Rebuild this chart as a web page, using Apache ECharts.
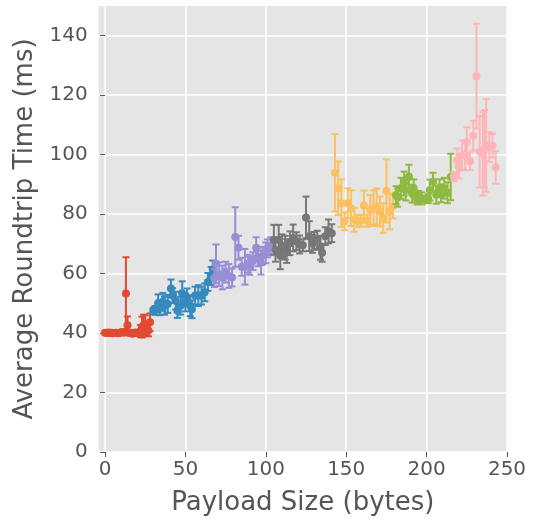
<!DOCTYPE html>
<html>
<head>
<meta charset="utf-8">
<script src="https://cdn.jsdelivr.net/npm/echarts@6/dist/echarts.min.js"></script>
<style>
  html, body { margin: 0; padding: 0; background: #fff; }
  #chart { width: 538px; height: 521px; }
</style>
</head>
<body>
<div id="chart"></div>
<script>
// payload size (bytes), mean roundtrip (ms), error (+/- ms)
var payload = [
  0, 1, 2, 3, 4, 5, 6, 7, 8, 9, 10, 11, 12, 13, 14, 15, 16, 17, 18, 19, 20, 21, 22, 23, 24, 25, 26, 27, 28,
  30, 31, 33, 34, 36, 37, 39, 41, 42, 44, 45, 47, 48, 50, 51, 53, 54, 56, 58, 60, 62, 64, 66, 67,
  68, 69, 71, 73, 75, 77, 79, 81, 83, 85, 87, 89, 90, 92, 94, 95, 97, 98, 100, 101, 103,
  105, 106, 108, 109, 110, 112, 113, 115, 117, 119, 121, 123, 125, 127, 129, 130, 132, 134, 135, 137, 139, 141,
  143, 145, 147, 149, 151, 153, 155, 157, 159, 161, 163, 165, 167, 169, 171, 173, 175, 177, 179,
  181, 182, 184, 186, 187, 189, 191, 192, 194, 195, 197, 199, 201, 202, 204, 206, 208, 209, 211, 213, 215,
  217, 219, 220, 222, 224, 225, 227, 229, 231, 233, 235, 236, 237, 239, 241, 243
];
var rtt = [
  40.1, 40.0, 40.2, 40.0, 40.1, 39.9, 40.0, 40.1, 39.9, 40.0, 40.2, 40.4, 40.1, 53.3, 42.6, 40.0, 40.1, 39.8, 40.0, 40.2, 40.0, 40.1, 40.7, 42.0, 42.6, 43.0, 40.5, 40.9, 43.6,
  47.5, 47.6, 50.0, 48.5, 50.5, 49.2, 49.8, 55.0, 52.6, 50.9, 47.6, 49.2, 53.4, 50.3, 52.0, 49.2, 48.0, 52.6, 52.6, 52.6, 53.7, 57.2, 59.2, 61.4,
  58.5, 63.3, 59.8, 58.7, 60.5, 59.2, 58.7, 72.3, 68.7, 62.3, 62.3, 63.3, 62.6, 64.2, 68.7, 65.5, 63.7, 66.0, 67.0, 68.5, 69.2,
  71.4, 68.0, 71.4, 66.0, 69.2, 68.7, 67.6, 70.2, 72.0, 70.9, 69.8, 69.5, 78.9, 72.6, 70.0, 71.0, 71.4, 68.7, 67.0, 72.6, 74.2, 73.6,
  93.9, 88.7, 83.7, 77.6, 83.7, 82.0, 78.1, 77.8, 77.8, 82.9, 77.8, 81.4, 82.0, 82.6, 80.9, 78.7, 87.8, 80.9, 82.6,
  86.4, 85.5, 88.7, 90.3, 88.1, 92.6, 86.9, 88.7, 85.3, 85.8, 85.3, 85.0, 85.2, 88.1, 90.9, 86.5, 88.7, 87.0, 88.7, 87.2, 92.5,
  92.6, 98.1, 96.0, 99.8, 99.8, 104.2, 97.8, 106.4, 126.4, 101.0, 100.3, 102.0, 103.1, 102.6, 103.0, 95.7
];
var err = [
  0.5, 0.4, 0.5, 0.3, 0.4, 0.4, 0.3, 0.5, 0.4, 0.4, 0.6, 0.8, 0.6, 12.2, 3.0, 0.6, 0.5, 0.6, 0.7, 0.8, 0.6, 0.9, 2.0, 3.5, 3.6, 3.0, 1.5, 2.0, 3.0,
  1.0, 1.5, 3.0, 2.5, 3.0, 3.0, 3.0, 3.0, 2.5, 3.0, 2.5, 3.0, 4.0, 3.0, 3.0, 3.5, 3.0, 3.0, 3.5, 3.0, 3.0, 3.0, 3.0, 3.0,
  3.0, 6.5, 4.0, 4.0, 3.5, 4.0, 3.0, 10.0, 4.0, 3.0, 6.0, 3.0, 3.0, 3.0, 3.5, 3.0, 4.0, 3.0, 3.5, 3.0, 3.0,
  5.0, 4.0, 5.0, 4.5, 4.0, 4.0, 4.0, 4.0, 4.5, 3.0, 3.0, 2.0, 7.0, 5.0, 3.0, 3.0, 3.0, 4.0, 3.0, 3.0, 4.0, 3.0,
  13.0, 9.0, 8.0, 3.0, 5.0, 6.0, 4.0, 2.0, 2.0, 5.0, 2.0, 5.0, 6.0, 6.0, 5.0, 5.0, 10.6, 6.0, 4.0,
  3.0, 3.0, 3.5, 4.0, 3.5, 4.0, 3.0, 3.0, 2.0, 2.0, 2.0, 1.0, 1.5, 3.5, 3.0, 3.0, 3.0, 3.0, 3.5, 3.5, 7.8,
  1.5, 4.0, 4.0, 5.0, 5.0, 5.0, 3.0, 5.0, 17.6, 12.0, 14.0, 13.0, 15.6, 5.0, 4.0, 5.5
];
// first payload size of each colour group
var groupStarts = [0, 30, 68, 105, 142, 180, 217];
var xTicks = [0, 50, 100, 150, 200, 250];
var yTicks = [0, 20, 40, 60, 80, 100, 120, 140];

var colors = ['#E24A33', '#348ABD', '#988ED5', '#777777', '#FBC15E', '#8EBA42', '#FFB5B8'];

var chart = echarts.init(document.getElementById('chart'));

function groupOf(x) {
  var g = 0;
  for (var i = 0; i < groupStarts.length; i++) {
    if (x >= groupStarts[i]) g = i;
  }
  return g;
}

var grouped = groupStarts.map(function () { return []; });
payload.forEach(function (x, i) {
  grouped[groupOf(x)].push([x, rtt[i], err[i]]);
});

var series = [];
grouped.forEach(function (pts, g) {
  // error bars with caps
  series.push({
    type: 'custom',
    silent: true,
    data: pts,
    renderItem: function (params, api) {
      var x = api.value(0), y = api.value(1), e = api.value(2);
      var lo = api.coord([x, y - e]);
      var hi = api.coord([x, y + e]);
      var cap = 3.5;
      var st = { stroke: colors[g], lineWidth: 2 };
      return {
        type: 'group',
        children: [
          { type: 'line', shape: { x1: lo[0], y1: lo[1], x2: hi[0], y2: hi[1] }, style: st },
          { type: 'line', shape: { x1: lo[0] - cap, y1: lo[1], x2: lo[0] + cap, y2: lo[1] }, style: st },
          { type: 'line', shape: { x1: hi[0] - cap, y1: hi[1], x2: hi[0] + cap, y2: hi[1] }, style: st }
        ]
      };
    },
    z: 2 + g * 2
  });
  series.push({
    type: 'scatter',
    data: pts.map(function (p) { return [p[0], p[1]]; }),
    symbol: 'circle',
    symbolSize: 8,
    itemStyle: { color: colors[g], opacity: 1 },
    z: 3 + g * 2
  });
});

var tickText = { color: '#555555', fontFamily: 'DejaVu Sans', fontSize: 20 };

var option = {
  animation: false,
  grid: {
    left: 98.6, right: 31, top: 6, bottom: 65,
    show: true, backgroundColor: '#E5E5E5', borderWidth: 0
  },
  xAxis: {
    type: 'value',
    min: -4, max: 250,
    name: 'Payload Size (bytes)',
    nameLocation: 'middle',
    nameGap: 38,
    nameTextStyle: { color: '#555555', fontFamily: 'DejaVu Sans', fontSize: 26 },
    axisLine: { show: false },
    axisTick: { show: true, customValues: xTicks, length: 5, lineStyle: { color: '#555555', width: 1 } },
    axisLabel: Object.assign({ customValues: xTicks, margin: 8 }, tickText),
    splitLine: { show: true, customValues: xTicks, lineStyle: { color: '#ffffff', width: 1.5 } }
  },
  yAxis: {
    type: 'value',
    min: 0, max: 150,
    name: 'Average Roundtrip Time (ms)',
    nameLocation: 'middle',
    nameGap: 54,
    nameTextStyle: { color: '#555555', fontFamily: 'DejaVu Sans', fontSize: 26 },
    axisLine: { show: false },
    axisTick: { show: true, customValues: yTicks, length: 5, lineStyle: { color: '#555555', width: 1 } },
    axisLabel: Object.assign({ customValues: yTicks, margin: 11 }, tickText),
    splitLine: { show: true, customValues: yTicks, lineStyle: { color: '#ffffff', width: 1.5 } }
  },
  series: series
};

chart.setOption(option);
</script>
</body>
</html>
